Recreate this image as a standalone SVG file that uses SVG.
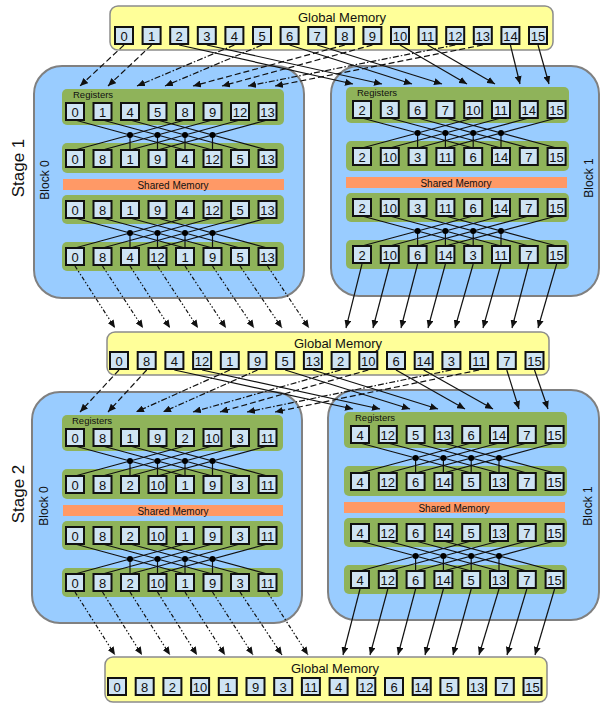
<svg xmlns="http://www.w3.org/2000/svg" xmlns:xlink="http://www.w3.org/1999/xlink" width="602" height="709" viewBox="0 0 602 709">
<style>
.gm{fill:#ffff99;stroke:#8c8c8c;stroke-width:1.5}
.blk{fill:#99ccff;stroke:#808080;stroke-width:2}
.reg{fill:#8fb35a}
.sh{fill:#ff9966}
.c{fill:#cfe4f4;stroke:#111;stroke-width:2}
.t{font-family:"Liberation Sans",Arial,sans-serif;font-size:13px;text-anchor:middle;fill:#111}
.lbl{font-family:"Liberation Sans",Arial,sans-serif;fill:#111}
.w{stroke:#111;stroke-width:1.2;fill:none}
.a{stroke:#111;stroke-width:1.2;fill:none;marker-end:url(#ah)}
.da{stroke-dasharray:6 3}
.dd{stroke-dasharray:6 2 1.5 2}
.ddd{stroke-dasharray:4 2 1.5 2 1.5 2}
</style>
<defs>
<marker id="ah" markerUnits="userSpaceOnUse" markerWidth="9" markerHeight="7" refX="8" refY="3.5" orient="auto"><path d="M0,0 L8,3.5 L0,7 z" fill="#111"/></marker>
<g id="x0"><path class="w" d="M0 0L110 30M110 0L0 30M27.5 0L137.5 30M137.5 0L27.5 30M55 0L165 30M165 0L55 30M82.5 0L192.5 30M192.5 0L82.5 30M55 15V30M82.5 15V30M110 15V30M137.5 15V30"/><circle cx="55" cy="15" r="3"/><circle cx="82.5" cy="15" r="3"/><circle cx="110" cy="15" r="3"/><circle cx="137.5" cy="15" r="3"/></g>
<g id="x1"><path class="w" d="M0 0L111.2 30M111.2 0L0 30M27.8 0L139 30M139 0L27.8 30M55.6 0L166.8 30M166.8 0L55.6 30M83.4 0L194.6 30M194.6 0L83.4 30M55.6 15V30M83.4 15V30M111.2 15V30M139 15V30"/><circle cx="55.6" cy="15" r="3"/><circle cx="83.4" cy="15" r="3"/><circle cx="111.2" cy="15" r="3"/><circle cx="139" cy="15" r="3"/></g>
</defs>
<rect width="602" height="709" fill="#ffffff"/>

<!-- Stage labels -->
<text class="lbl" font-size="17" text-anchor="middle" transform="translate(24,168) rotate(-90)">Stage 1</text>
<text class="lbl" font-size="17" text-anchor="middle" transform="translate(24,494) rotate(-90)">Stage 2</text>

<!-- Global memory top -->
<g id="gm-top">
<rect class="gm" x="110" y="6" width="443" height="44" rx="8"/>
<text class="t" x="342" y="22">Global Memory</text>
<g transform="translate(115,27)">
<rect class="c" x="0" width="18" height="17"/><text class="t" x="9" y="13.5">0</text>
<rect class="c" x="27.6" width="18" height="17"/><text class="t" x="36.6" y="13.5">1</text>
<rect class="c" x="55.2" width="18" height="17"/><text class="t" x="64.2" y="13.5">2</text>
<rect class="c" x="82.8" width="18" height="17"/><text class="t" x="91.8" y="13.5">3</text>
<rect class="c" x="110.4" width="18" height="17"/><text class="t" x="119.4" y="13.5">4</text>
<rect class="c" x="138" width="18" height="17"/><text class="t" x="147" y="13.5">5</text>
<rect class="c" x="165.6" width="18" height="17"/><text class="t" x="174.6" y="13.5">6</text>
<rect class="c" x="193.2" width="18" height="17"/><text class="t" x="202.2" y="13.5">7</text>
<rect class="c" x="220.8" width="18" height="17"/><text class="t" x="229.8" y="13.5">8</text>
<rect class="c" x="248.4" width="18" height="17"/><text class="t" x="257.4" y="13.5">9</text>
<rect class="c" x="276" width="18" height="17"/><text class="t" x="285" y="13.5">10</text>
<rect class="c" x="303.6" width="18" height="17"/><text class="t" x="312.6" y="13.5">11</text>
<rect class="c" x="331.2" width="18" height="17"/><text class="t" x="340.2" y="13.5">12</text>
<rect class="c" x="358.8" width="18" height="17"/><text class="t" x="367.8" y="13.5">13</text>
<rect class="c" x="386.4" width="18" height="17"/><text class="t" x="395.4" y="13.5">14</text>
<rect class="c" x="414" width="18" height="17"/><text class="t" x="423" y="13.5">15</text>
</g>
</g>

<!-- Stage 1 Block 0 -->
<g id="s1-block0">
<rect class="blk" x="34" y="66" width="270" height="232" rx="28"/>
<text class="lbl" font-size="12" text-anchor="middle" transform="translate(49,180) rotate(-90)">Block 0</text>
<rect class="reg" x="62" y="89" width="222" height="36" rx="5"/>
<text class="lbl" font-size="9.5" x="73" y="98">Registers</text>
<g transform="translate(66,103)">
<rect class="c" x="0" width="18" height="17"/><text class="t" x="9" y="13.5">0</text>
<rect class="c" x="27.5" width="18" height="17"/><text class="t" x="36.5" y="13.5">1</text>
<rect class="c" x="55" width="18" height="17"/><text class="t" x="64" y="13.5">4</text>
<rect class="c" x="82.5" width="18" height="17"/><text class="t" x="91.5" y="13.5">5</text>
<rect class="c" x="110" width="18" height="17"/><text class="t" x="119" y="13.5">8</text>
<rect class="c" x="137.5" width="18" height="17"/><text class="t" x="146.5" y="13.5">9</text>
<rect class="c" x="165" width="18" height="17"/><text class="t" x="174" y="13.5">12</text>
<rect class="c" x="192.5" width="18" height="17"/><text class="t" x="201.5" y="13.5">13</text>
</g>
<rect class="reg" x="62" y="143" width="222" height="30" rx="5"/>
<g transform="translate(66,150)">
<rect class="c" x="0" width="18" height="17"/><text class="t" x="9" y="13.5">0</text>
<rect class="c" x="27.5" width="18" height="17"/><text class="t" x="36.5" y="13.5">8</text>
<rect class="c" x="55" width="18" height="17"/><text class="t" x="64" y="13.5">1</text>
<rect class="c" x="82.5" width="18" height="17"/><text class="t" x="91.5" y="13.5">9</text>
<rect class="c" x="110" width="18" height="17"/><text class="t" x="119" y="13.5">4</text>
<rect class="c" x="137.5" width="18" height="17"/><text class="t" x="146.5" y="13.5">12</text>
<rect class="c" x="165" width="18" height="17"/><text class="t" x="174" y="13.5">5</text>
<rect class="c" x="192.5" width="18" height="17"/><text class="t" x="201.5" y="13.5">13</text>
</g>
<use xlink:href="#x0" x="75" y="120"/>
<rect class="sh" x="63" y="179" width="221" height="11"/>
<text class="lbl" font-size="10" text-anchor="middle" x="173" y="188.5">Shared Memory</text>
<rect class="reg" x="62" y="195" width="222" height="29" rx="5"/>
<g transform="translate(66,201)">
<rect class="c" x="0" width="18" height="17"/><text class="t" x="9" y="13.5">0</text>
<rect class="c" x="27.5" width="18" height="17"/><text class="t" x="36.5" y="13.5">8</text>
<rect class="c" x="55" width="18" height="17"/><text class="t" x="64" y="13.5">1</text>
<rect class="c" x="82.5" width="18" height="17"/><text class="t" x="91.5" y="13.5">9</text>
<rect class="c" x="110" width="18" height="17"/><text class="t" x="119" y="13.5">4</text>
<rect class="c" x="137.5" width="18" height="17"/><text class="t" x="146.5" y="13.5">12</text>
<rect class="c" x="165" width="18" height="17"/><text class="t" x="174" y="13.5">5</text>
<rect class="c" x="192.5" width="18" height="17"/><text class="t" x="201.5" y="13.5">13</text>
</g>
<rect class="reg" x="62" y="242" width="222" height="29" rx="5"/>
<g transform="translate(66,248)">
<rect class="c" x="0" width="18" height="17"/><text class="t" x="9" y="13.5">0</text>
<rect class="c" x="27.5" width="18" height="17"/><text class="t" x="36.5" y="13.5">8</text>
<rect class="c" x="55" width="18" height="17"/><text class="t" x="64" y="13.5">4</text>
<rect class="c" x="82.5" width="18" height="17"/><text class="t" x="91.5" y="13.5">12</text>
<rect class="c" x="110" width="18" height="17"/><text class="t" x="119" y="13.5">1</text>
<rect class="c" x="137.5" width="18" height="17"/><text class="t" x="146.5" y="13.5">9</text>
<rect class="c" x="165" width="18" height="17"/><text class="t" x="174" y="13.5">5</text>
<rect class="c" x="192.5" width="18" height="17"/><text class="t" x="201.5" y="13.5">13</text>
</g>
<use xlink:href="#x0" x="75" y="218"/>
</g>

<!-- Stage 1 Block 1 -->
<g id="s1-block1">
<rect class="blk" x="331" y="66" width="268" height="230" rx="28"/>
<text class="lbl" font-size="12" text-anchor="middle" transform="translate(593,178) rotate(-90)">Block 1</text>
<rect class="reg" x="346" y="87" width="223" height="36" rx="5"/>
<text class="lbl" font-size="9.5" x="357" y="96">Registers</text>
<g transform="translate(353,101)">
<rect class="c" x="0" width="18" height="17"/><text class="t" x="9" y="13.5">2</text>
<rect class="c" x="27.8" width="18" height="17"/><text class="t" x="36.8" y="13.5">3</text>
<rect class="c" x="55.6" width="18" height="17"/><text class="t" x="64.6" y="13.5">6</text>
<rect class="c" x="83.4" width="18" height="17"/><text class="t" x="92.4" y="13.5">7</text>
<rect class="c" x="111.2" width="18" height="17"/><text class="t" x="120.2" y="13.5">10</text>
<rect class="c" x="139" width="18" height="17"/><text class="t" x="148" y="13.5">11</text>
<rect class="c" x="166.8" width="18" height="17"/><text class="t" x="175.8" y="13.5">14</text>
<rect class="c" x="194.6" width="18" height="17"/><text class="t" x="203.6" y="13.5">15</text>
</g>
<rect class="reg" x="346" y="141" width="223" height="30" rx="5"/>
<g transform="translate(353,148)">
<rect class="c" x="0" width="18" height="17"/><text class="t" x="9" y="13.5">2</text>
<rect class="c" x="27.8" width="18" height="17"/><text class="t" x="36.8" y="13.5">10</text>
<rect class="c" x="55.6" width="18" height="17"/><text class="t" x="64.6" y="13.5">3</text>
<rect class="c" x="83.4" width="18" height="17"/><text class="t" x="92.4" y="13.5">11</text>
<rect class="c" x="111.2" width="18" height="17"/><text class="t" x="120.2" y="13.5">6</text>
<rect class="c" x="139" width="18" height="17"/><text class="t" x="148" y="13.5">14</text>
<rect class="c" x="166.8" width="18" height="17"/><text class="t" x="175.8" y="13.5">7</text>
<rect class="c" x="194.6" width="18" height="17"/><text class="t" x="203.6" y="13.5">15</text>
</g>
<use xlink:href="#x1" x="362" y="118"/>
<rect class="sh" x="346" y="177" width="221" height="11"/>
<text class="lbl" font-size="10" text-anchor="middle" x="456" y="186.5">Shared Memory</text>
<rect class="reg" x="346" y="193" width="223" height="29" rx="5"/>
<g transform="translate(353,199)">
<rect class="c" x="0" width="18" height="17"/><text class="t" x="9" y="13.5">2</text>
<rect class="c" x="27.8" width="18" height="17"/><text class="t" x="36.8" y="13.5">10</text>
<rect class="c" x="55.6" width="18" height="17"/><text class="t" x="64.6" y="13.5">3</text>
<rect class="c" x="83.4" width="18" height="17"/><text class="t" x="92.4" y="13.5">11</text>
<rect class="c" x="111.2" width="18" height="17"/><text class="t" x="120.2" y="13.5">6</text>
<rect class="c" x="139" width="18" height="17"/><text class="t" x="148" y="13.5">14</text>
<rect class="c" x="166.8" width="18" height="17"/><text class="t" x="175.8" y="13.5">7</text>
<rect class="c" x="194.6" width="18" height="17"/><text class="t" x="203.6" y="13.5">15</text>
</g>
<rect class="reg" x="346" y="240" width="223" height="29" rx="5"/>
<g transform="translate(353,246)">
<rect class="c" x="0" width="18" height="17"/><text class="t" x="9" y="13.5">2</text>
<rect class="c" x="27.8" width="18" height="17"/><text class="t" x="36.8" y="13.5">10</text>
<rect class="c" x="55.6" width="18" height="17"/><text class="t" x="64.6" y="13.5">6</text>
<rect class="c" x="83.4" width="18" height="17"/><text class="t" x="92.4" y="13.5">14</text>
<rect class="c" x="111.2" width="18" height="17"/><text class="t" x="120.2" y="13.5">3</text>
<rect class="c" x="139" width="18" height="17"/><text class="t" x="148" y="13.5">11</text>
<rect class="c" x="166.8" width="18" height="17"/><text class="t" x="175.8" y="13.5">7</text>
<rect class="c" x="194.6" width="18" height="17"/><text class="t" x="203.6" y="13.5">15</text>
</g>
<use xlink:href="#x1" x="362" y="216"/>
</g>

<!-- Global memory middle -->
<g id="gm-mid">
<rect class="gm" x="107" y="332" width="442" height="43" rx="8"/>
<text class="t" x="338" y="348">Global Memory</text>
<g transform="translate(110,352)">
<rect class="c" x="0" width="18" height="17"/><text class="t" x="9" y="13.5">0</text>
<rect class="c" x="27.7" width="18" height="17"/><text class="t" x="36.7" y="13.5">8</text>
<rect class="c" x="55.4" width="18" height="17"/><text class="t" x="64.4" y="13.5">4</text>
<rect class="c" x="83.1" width="18" height="17"/><text class="t" x="92.1" y="13.5">12</text>
<rect class="c" x="110.8" width="18" height="17"/><text class="t" x="119.8" y="13.5">1</text>
<rect class="c" x="138.5" width="18" height="17"/><text class="t" x="147.5" y="13.5">9</text>
<rect class="c" x="166.2" width="18" height="17"/><text class="t" x="175.2" y="13.5">5</text>
<rect class="c" x="193.9" width="18" height="17"/><text class="t" x="202.9" y="13.5">13</text>
<rect class="c" x="221.6" width="18" height="17"/><text class="t" x="230.6" y="13.5">2</text>
<rect class="c" x="249.3" width="18" height="17"/><text class="t" x="258.3" y="13.5">10</text>
<rect class="c" x="277" width="18" height="17"/><text class="t" x="286" y="13.5">6</text>
<rect class="c" x="304.7" width="18" height="17"/><text class="t" x="313.7" y="13.5">14</text>
<rect class="c" x="332.4" width="18" height="17"/><text class="t" x="341.4" y="13.5">3</text>
<rect class="c" x="360.1" width="18" height="17"/><text class="t" x="369.1" y="13.5">11</text>
<rect class="c" x="387.8" width="18" height="17"/><text class="t" x="396.8" y="13.5">7</text>
<rect class="c" x="415.5" width="18" height="17"/><text class="t" x="424.5" y="13.5">15</text>
</g>
</g>

<!-- Stage 2 Block 0 -->
<g id="s2-block0">
<rect class="blk" x="32" y="392" width="270" height="231" rx="28"/>
<text class="lbl" font-size="12" text-anchor="middle" transform="translate(48,506) rotate(-90)">Block 0</text>
<rect class="reg" x="62" y="415" width="221" height="36" rx="5"/>
<text class="lbl" font-size="9.5" x="72" y="424">Registers</text>
<g transform="translate(66,429)">
<rect class="c" x="0" width="18" height="17"/><text class="t" x="9" y="13.5">0</text>
<rect class="c" x="27.5" width="18" height="17"/><text class="t" x="36.5" y="13.5">8</text>
<rect class="c" x="55" width="18" height="17"/><text class="t" x="64" y="13.5">1</text>
<rect class="c" x="82.5" width="18" height="17"/><text class="t" x="91.5" y="13.5">9</text>
<rect class="c" x="110" width="18" height="17"/><text class="t" x="119" y="13.5">2</text>
<rect class="c" x="137.5" width="18" height="17"/><text class="t" x="146.5" y="13.5">10</text>
<rect class="c" x="165" width="18" height="17"/><text class="t" x="174" y="13.5">3</text>
<rect class="c" x="192.5" width="18" height="17"/><text class="t" x="201.5" y="13.5">11</text>
</g>
<rect class="reg" x="62" y="469" width="221" height="30" rx="5"/>
<g transform="translate(66,476)">
<rect class="c" x="0" width="18" height="17"/><text class="t" x="9" y="13.5">0</text>
<rect class="c" x="27.5" width="18" height="17"/><text class="t" x="36.5" y="13.5">8</text>
<rect class="c" x="55" width="18" height="17"/><text class="t" x="64" y="13.5">2</text>
<rect class="c" x="82.5" width="18" height="17"/><text class="t" x="91.5" y="13.5">10</text>
<rect class="c" x="110" width="18" height="17"/><text class="t" x="119" y="13.5">1</text>
<rect class="c" x="137.5" width="18" height="17"/><text class="t" x="146.5" y="13.5">9</text>
<rect class="c" x="165" width="18" height="17"/><text class="t" x="174" y="13.5">3</text>
<rect class="c" x="192.5" width="18" height="17"/><text class="t" x="201.5" y="13.5">11</text>
</g>
<use xlink:href="#x0" x="75" y="446"/>
<rect class="sh" x="63" y="505" width="220" height="11"/>
<text class="lbl" font-size="10" text-anchor="middle" x="173" y="514.5">Shared Memory</text>
<rect class="reg" x="62" y="521" width="221" height="29" rx="5"/>
<g transform="translate(66,527)">
<rect class="c" x="0" width="18" height="17"/><text class="t" x="9" y="13.5">0</text>
<rect class="c" x="27.5" width="18" height="17"/><text class="t" x="36.5" y="13.5">8</text>
<rect class="c" x="55" width="18" height="17"/><text class="t" x="64" y="13.5">2</text>
<rect class="c" x="82.5" width="18" height="17"/><text class="t" x="91.5" y="13.5">10</text>
<rect class="c" x="110" width="18" height="17"/><text class="t" x="119" y="13.5">1</text>
<rect class="c" x="137.5" width="18" height="17"/><text class="t" x="146.5" y="13.5">9</text>
<rect class="c" x="165" width="18" height="17"/><text class="t" x="174" y="13.5">3</text>
<rect class="c" x="192.5" width="18" height="17"/><text class="t" x="201.5" y="13.5">11</text>
</g>
<rect class="reg" x="62" y="568" width="221" height="29" rx="5"/>
<g transform="translate(66,574)">
<rect class="c" x="0" width="18" height="17"/><text class="t" x="9" y="13.5">0</text>
<rect class="c" x="27.5" width="18" height="17"/><text class="t" x="36.5" y="13.5">8</text>
<rect class="c" x="55" width="18" height="17"/><text class="t" x="64" y="13.5">2</text>
<rect class="c" x="82.5" width="18" height="17"/><text class="t" x="91.5" y="13.5">10</text>
<rect class="c" x="110" width="18" height="17"/><text class="t" x="119" y="13.5">1</text>
<rect class="c" x="137.5" width="18" height="17"/><text class="t" x="146.5" y="13.5">9</text>
<rect class="c" x="165" width="18" height="17"/><text class="t" x="174" y="13.5">3</text>
<rect class="c" x="192.5" width="18" height="17"/><text class="t" x="201.5" y="13.5">11</text>
</g>
<use xlink:href="#x0" x="75" y="544"/>
</g>

<!-- Stage 2 Block 1 -->
<g id="s2-block1">
<rect class="blk" x="328" y="390" width="271" height="230" rx="28"/>
<text class="lbl" font-size="12" text-anchor="middle" transform="translate(592,506) rotate(-90)">Block 1</text>
<rect class="reg" x="344" y="412" width="223" height="36" rx="5"/>
<text class="lbl" font-size="9.5" x="355" y="421">Registers</text>
<g transform="translate(351,426)">
<rect class="c" x="0" width="18" height="17"/><text class="t" x="9" y="13.5">4</text>
<rect class="c" x="27.8" width="18" height="17"/><text class="t" x="36.8" y="13.5">12</text>
<rect class="c" x="55.6" width="18" height="17"/><text class="t" x="64.6" y="13.5">5</text>
<rect class="c" x="83.4" width="18" height="17"/><text class="t" x="92.4" y="13.5">13</text>
<rect class="c" x="111.2" width="18" height="17"/><text class="t" x="120.2" y="13.5">6</text>
<rect class="c" x="139" width="18" height="17"/><text class="t" x="148" y="13.5">14</text>
<rect class="c" x="166.8" width="18" height="17"/><text class="t" x="175.8" y="13.5">7</text>
<rect class="c" x="194.6" width="18" height="17"/><text class="t" x="203.6" y="13.5">15</text>
</g>
<rect class="reg" x="344" y="466" width="223" height="30" rx="5"/>
<g transform="translate(351,473)">
<rect class="c" x="0" width="18" height="17"/><text class="t" x="9" y="13.5">4</text>
<rect class="c" x="27.8" width="18" height="17"/><text class="t" x="36.8" y="13.5">12</text>
<rect class="c" x="55.6" width="18" height="17"/><text class="t" x="64.6" y="13.5">6</text>
<rect class="c" x="83.4" width="18" height="17"/><text class="t" x="92.4" y="13.5">14</text>
<rect class="c" x="111.2" width="18" height="17"/><text class="t" x="120.2" y="13.5">5</text>
<rect class="c" x="139" width="18" height="17"/><text class="t" x="148" y="13.5">13</text>
<rect class="c" x="166.8" width="18" height="17"/><text class="t" x="175.8" y="13.5">7</text>
<rect class="c" x="194.6" width="18" height="17"/><text class="t" x="203.6" y="13.5">15</text>
</g>
<use xlink:href="#x1" x="360" y="443"/>
<rect class="sh" x="344" y="502" width="221" height="11"/>
<text class="lbl" font-size="10" text-anchor="middle" x="454" y="511.5">Shared Memory</text>
<rect class="reg" x="344" y="518" width="223" height="29" rx="5"/>
<g transform="translate(351,524)">
<rect class="c" x="0" width="18" height="17"/><text class="t" x="9" y="13.5">4</text>
<rect class="c" x="27.8" width="18" height="17"/><text class="t" x="36.8" y="13.5">12</text>
<rect class="c" x="55.6" width="18" height="17"/><text class="t" x="64.6" y="13.5">6</text>
<rect class="c" x="83.4" width="18" height="17"/><text class="t" x="92.4" y="13.5">14</text>
<rect class="c" x="111.2" width="18" height="17"/><text class="t" x="120.2" y="13.5">5</text>
<rect class="c" x="139" width="18" height="17"/><text class="t" x="148" y="13.5">13</text>
<rect class="c" x="166.8" width="18" height="17"/><text class="t" x="175.8" y="13.5">7</text>
<rect class="c" x="194.6" width="18" height="17"/><text class="t" x="203.6" y="13.5">15</text>
</g>
<rect class="reg" x="344" y="565" width="223" height="29" rx="5"/>
<g transform="translate(351,571)">
<rect class="c" x="0" width="18" height="17"/><text class="t" x="9" y="13.5">4</text>
<rect class="c" x="27.8" width="18" height="17"/><text class="t" x="36.8" y="13.5">12</text>
<rect class="c" x="55.6" width="18" height="17"/><text class="t" x="64.6" y="13.5">6</text>
<rect class="c" x="83.4" width="18" height="17"/><text class="t" x="92.4" y="13.5">14</text>
<rect class="c" x="111.2" width="18" height="17"/><text class="t" x="120.2" y="13.5">5</text>
<rect class="c" x="139" width="18" height="17"/><text class="t" x="148" y="13.5">13</text>
<rect class="c" x="166.8" width="18" height="17"/><text class="t" x="175.8" y="13.5">7</text>
<rect class="c" x="194.6" width="18" height="17"/><text class="t" x="203.6" y="13.5">15</text>
</g>
<use xlink:href="#x1" x="360" y="541"/>
</g>

<!-- Global memory bottom -->
<g id="gm-bot">
<rect class="gm" x="105" y="657" width="442" height="45" rx="8"/>
<text class="t" x="335" y="673">Global Memory</text>
<g transform="translate(108,678)">
<rect class="c" x="0" width="18" height="17"/><text class="t" x="9" y="13.5">0</text>
<rect class="c" x="27.7" width="18" height="17"/><text class="t" x="36.7" y="13.5">8</text>
<rect class="c" x="55.4" width="18" height="17"/><text class="t" x="64.4" y="13.5">2</text>
<rect class="c" x="83.1" width="18" height="17"/><text class="t" x="92.1" y="13.5">10</text>
<rect class="c" x="110.8" width="18" height="17"/><text class="t" x="119.8" y="13.5">1</text>
<rect class="c" x="138.5" width="18" height="17"/><text class="t" x="147.5" y="13.5">9</text>
<rect class="c" x="166.2" width="18" height="17"/><text class="t" x="175.2" y="13.5">3</text>
<rect class="c" x="193.9" width="18" height="17"/><text class="t" x="202.9" y="13.5">11</text>
<rect class="c" x="221.6" width="18" height="17"/><text class="t" x="230.6" y="13.5">4</text>
<rect class="c" x="249.3" width="18" height="17"/><text class="t" x="258.3" y="13.5">12</text>
<rect class="c" x="277" width="18" height="17"/><text class="t" x="286" y="13.5">6</text>
<rect class="c" x="304.7" width="18" height="17"/><text class="t" x="313.7" y="13.5">14</text>
<rect class="c" x="332.4" width="18" height="17"/><text class="t" x="341.4" y="13.5">5</text>
<rect class="c" x="360.1" width="18" height="17"/><text class="t" x="369.1" y="13.5">13</text>
<rect class="c" x="387.8" width="18" height="17"/><text class="t" x="396.8" y="13.5">7</text>
<rect class="c" x="415.5" width="18" height="17"/><text class="t" x="424.5" y="13.5">15</text>
</g>
</g>

<!-- Connectors -->
<g id="connectors">
<line class="a da" x1="124" y1="45" x2="80" y2="86"/>
<line class="a da" x1="151.6" y1="45" x2="108" y2="86"/>
<line class="a dd" x1="234.4" y1="45" x2="137" y2="86"/>
<line class="a dd" x1="262" y1="45" x2="165" y2="86"/>
<line class="a da" x1="344.8" y1="45" x2="193" y2="86"/>
<line class="a da" x1="372.4" y1="45" x2="222" y2="86"/>
<line class="a dd" x1="455.2" y1="45" x2="248" y2="86"/>
<line class="a da" x1="482.8" y1="45" x2="275" y2="86"/>
<line class="a" x1="179.2" y1="45" x2="353" y2="84"/>
<line class="a" x1="206.8" y1="45" x2="382" y2="84"/>
<line class="a" x1="289.6" y1="45" x2="412" y2="84"/>
<line class="a" x1="317.2" y1="45" x2="442" y2="84"/>
<line class="a" x1="400" y1="45" x2="467" y2="84"/>
<line class="a" x1="427.6" y1="45" x2="495" y2="84"/>
<line class="a" x1="510.4" y1="45" x2="520" y2="84"/>
<line class="a" x1="538" y1="45" x2="549" y2="84"/>

<line class="a ddd" x1="75" y1="266" x2="115" y2="328"/>
<line class="a ddd" x1="102.5" y1="266" x2="143" y2="328"/>
<line class="a ddd" x1="130" y1="266" x2="170" y2="328"/>
<line class="a ddd" x1="157.5" y1="266" x2="198" y2="328"/>
<line class="a ddd" x1="185" y1="266" x2="226" y2="328"/>
<line class="a ddd" x1="212.5" y1="266" x2="254" y2="328"/>
<line class="a ddd" x1="240" y1="266" x2="282" y2="328"/>
<line class="a ddd" x1="267.5" y1="266" x2="309" y2="328"/>
<line class="a" x1="362" y1="264" x2="346" y2="328"/>
<line class="a" x1="389.8" y1="264" x2="373" y2="328"/>
<line class="a" x1="417.6" y1="264" x2="401" y2="328"/>
<line class="a" x1="445.4" y1="264" x2="428" y2="328"/>
<line class="a" x1="473.2" y1="264" x2="455" y2="328"/>
<line class="a" x1="501" y1="264" x2="483" y2="328"/>
<line class="a" x1="528.8" y1="264" x2="512" y2="328"/>
<line class="a" x1="556.6" y1="264" x2="538" y2="328"/>

<line class="a da" x1="119" y1="370" x2="80" y2="412"/>
<line class="a da" x1="146.7" y1="370" x2="108" y2="412"/>
<line class="a dd" x1="229.8" y1="370" x2="136" y2="412"/>
<line class="a dd" x1="257.5" y1="370" x2="163" y2="412"/>
<line class="a dd" x1="340.6" y1="370" x2="193" y2="412"/>
<line class="a da" x1="368.3" y1="370" x2="220" y2="412"/>
<line class="a dd" x1="451.4" y1="370" x2="247" y2="412"/>
<line class="a da" x1="479.1" y1="370" x2="275" y2="412"/>
<line class="a" x1="174.4" y1="370" x2="353" y2="409"/>
<line class="a" x1="202.1" y1="370" x2="380" y2="409"/>
<line class="a" x1="285.2" y1="370" x2="410" y2="409"/>
<line class="a" x1="312.9" y1="370" x2="438" y2="409"/>
<line class="a" x1="396" y1="370" x2="465" y2="409"/>
<line class="a" x1="423.7" y1="370" x2="493" y2="409"/>
<line class="a" x1="506.8" y1="370" x2="519" y2="409"/>
<line class="a" x1="534.5" y1="370" x2="548" y2="409"/>

<line class="a ddd" x1="75" y1="592" x2="115" y2="655"/>
<line class="a ddd" x1="102.5" y1="592" x2="142" y2="655"/>
<line class="a ddd" x1="130" y1="592" x2="170" y2="655"/>
<line class="a ddd" x1="157.5" y1="592" x2="197" y2="655"/>
<line class="a ddd" x1="185" y1="592" x2="225" y2="655"/>
<line class="a ddd" x1="212.5" y1="592" x2="253" y2="655"/>
<line class="a ddd" x1="240" y1="592" x2="282" y2="655"/>
<line class="a ddd" x1="267.5" y1="592" x2="308" y2="655"/>
<line class="a" x1="360" y1="589" x2="343" y2="655"/>
<line class="a" x1="387.8" y1="589" x2="370" y2="655"/>
<line class="a" x1="415.6" y1="589" x2="398" y2="655"/>
<line class="a" x1="443.4" y1="589" x2="425" y2="655"/>
<line class="a" x1="471.2" y1="589" x2="453" y2="655"/>
<line class="a" x1="499" y1="589" x2="479" y2="655"/>
<line class="a" x1="526.8" y1="589" x2="507" y2="655"/>
<line class="a" x1="554.6" y1="589" x2="535" y2="655"/>
</g>
</svg>
